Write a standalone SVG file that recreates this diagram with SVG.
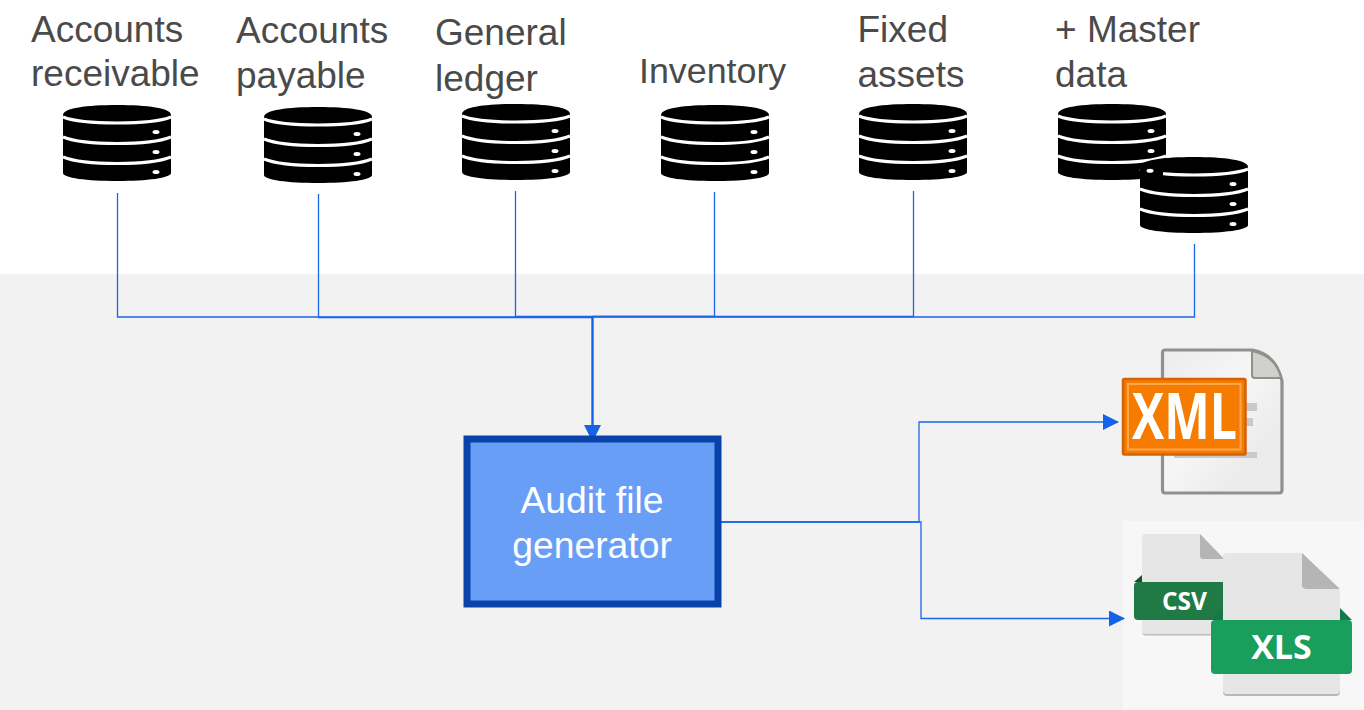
<svg xmlns="http://www.w3.org/2000/svg" width="1364" height="710" viewBox="0 0 1364 710">
<style>
text{font-family:"Liberation Sans",Arial,sans-serif}
.lbl{font-size:37px;fill:#4a4a4a}
.box{font-size:37.300px;fill:#fff;text-anchor:middle}
.badge{font-family:"Open Sans","Liberation Sans",sans-serif;font-weight:700;fill:#fff;text-anchor:middle}
.c{fill:none;stroke:#1a66e8;stroke-width:1.3}
.c2{fill:none;stroke:#1463e6;stroke-width:2.400}
.band{fill:none;stroke:#fff;stroke-width:3}
.dot{fill:#fff}
.lines{fill:#c9c9c9}
</style>
<defs>
<linearGradient id="sheet" x1="0" y1="0" x2="1" y2="1"><stop offset="0" stop-color="#ececec"/><stop offset="0.45" stop-color="#f6f6f6"/><stop offset="0.75" stop-color="#ececec"/></linearGradient>
<marker id="ah" markerUnits="userSpaceOnUse" markerWidth="18" markerHeight="18" refX="15" refY="8" orient="auto"><path d="M0 0L16 8L0 16Z" fill="#1463e6"/></marker>
<marker id="ah2" markerUnits="userSpaceOnUse" markerWidth="18" markerHeight="18" refX="16" refY="8.500" orient="auto"><path d="M0 0L17 8.500L0 17Z" fill="#1463e6"/></marker>
<symbol id="db" overflow="visible">
<path d="M0 10C0 3 24 0 54 0S108 3 108 10V68C108 73 84 76 54 76S0 73 0 68Z" fill="#000"/>
<path class="band" d="M0 12C10 16 30 18 54 18S98 16 108 12M0 32C10 36 30 38.500 54 38.500S98 36 108 32M0 52C10 56 30 58.500 54 58.500S98 56 108 52"/>
<ellipse class="dot" cx="93" cy="27" rx="3.500" ry="2"/><ellipse class="dot" cx="93" cy="47" rx="3.500" ry="2"/><ellipse class="dot" cx="93" cy="67" rx="3.500" ry="2"/>
</symbol>
</defs>
<rect width="1364" height="710" fill="#fff"/>
<rect y="274" width="1364" height="436" fill="#f2f2f2"/>
<rect x="1123" y="521" width="241" height="189" fill="#f7f7f7"/>

<g id="connectors">
<path class="c" d="M117.500 193V317H592"/>
<path class="c" d="M318.500 194V317.500H592"/>
<path class="c" d="M515.500 191V316.500H592"/>
<path class="c" d="M714.500 192V316.500H592"/>
<path class="c" d="M913.500 191V316.500H592"/>
<path class="c" d="M1194.500 244V317H592"/>
<path class="c2" d="M592.500 317V441" marker-end="url(#ah2)"/>
<path class="c" d="M721 522H919V422H1118" marker-end="url(#ah)"/>
<path class="c" d="M721 522H921V618.500H1124" marker-end="url(#ah)"/>
</g>

<g id="db-ar"><use href="#db" x="63" y="105"/><text class="lbl" x="31" y="42">Accounts</text><text class="lbl" x="31" y="86">receivable</text></g>
<g id="db-ap"><use href="#db" x="264" y="107"/><text class="lbl" x="236" y="43">Accounts</text><text class="lbl" x="236" y="88">payable</text></g>
<g id="db-gl"><use href="#db" x="462" y="104"/><text class="lbl" x="435" y="45">General</text><text class="lbl" x="435" y="91">ledger</text></g>
<g id="db-inv"><use href="#db" x="661" y="105"/><text class="lbl" x="639" y="83" style="font-size:35.800px">Inventory</text></g>
<g id="db-fa"><use href="#db" x="859" y="104"/><text class="lbl" x="857.500" y="42">Fixed</text><text class="lbl" x="857.500" y="87">assets</text></g>
<g id="db-md"><use href="#db" x="1058" y="104"/><use href="#db" x="1140" y="157"/><path d="M1140 167C1142 163 1150 160 1163 159V177H1140Z" fill="#000"/><ellipse class="dot" cx="1150" cy="170.700" rx="3.500" ry="2"/><text class="lbl" x="1055" y="42">+ Master</text><text class="lbl" x="1055" y="87">data</text></g>

<g id="generator">
<rect x="467" y="439" width="251" height="165" fill="#699ef6" stroke="#0942a8" stroke-width="7"/>
<text class="box" x="592" y="512.500">Audit file</text>
<text class="box" x="592" y="558">generator</text>
</g>

<g id="xml-file">
<path d="M1165 350H1252Q1276 354 1282 381V490Q1282 493 1279 493H1165Q1162.500 493 1162.500 490V353Q1162.500 350 1165 350Z" fill="url(#sheet)" stroke="#8e918c" stroke-width="3.200"/>
<path d="M1252 351V375Q1252 378 1255 378H1281Q1276 356 1252 351Z" fill="#cfd1cd" stroke="#8e918c" stroke-width="2"/>
<rect class="lines" x="1240" y="403" width="17" height="8"/><rect class="lines" x="1240" y="418" width="13" height="8"/><rect class="lines" x="1174" y="452" width="83" height="6"/>
<rect x="1123" y="379" width="122.500" height="75.500" rx="1.500" fill="#f57c00" stroke="#d2620a" stroke-width="2.500"/>
<rect x="1128" y="384" width="112.500" height="65.500" fill="none" stroke="#ffa64a" stroke-width="2"/>
<text class="badge" x="1184.500" y="439" font-size="64" textLength="105" lengthAdjust="spacingAndGlyphs">XML</text>
</g>

<g id="csv-file">
<path d="M1146 534H1200L1224 558V634H1146Q1142 634 1142 630V538Q1142 534 1146 534Z" fill="#e6e6e6"/>
<path d="M1142 631Q1142 634 1146 634H1224V635.500H1146Q1142 635.500 1142 631Z" fill="#bdbdbd"/>
<path d="M1200 534L1224 559H1203Q1200 559 1200 556Z" fill="#b5b5b5"/>
<path d="M1134 582L1142 575V582Z" fill="#14532f"/>
<path d="M1138 582H1224V620H1138Q1134 620 1134 616V586Q1134 582 1138 582Z" fill="#1f7a45"/>
<text class="badge" x="1184.500" y="610" font-size="24.500">CSV</text>
</g>

<g id="xls-file">
<path d="M1227 553H1302L1340 591V690Q1340 694 1336 694H1227Q1223 694 1223 690V557Q1223 553 1227 553Z" fill="#e6e6e6"/>
<path d="M1223 690Q1223 694 1227 694H1336Q1340 694 1340 690V692Q1340 696 1336 696H1227Q1223 696 1223 692Z" fill="#b8b8b8"/>
<path d="M1302 553L1340 589H1307Q1302 589 1302 585Z" fill="#b5b5b5"/>
<path d="M1211 620L1223 608V620ZM1352 620L1340 608V620Z" fill="#127a46"/>
<path d="M1215 620H1348Q1352 620 1352 624V670Q1352 674 1348 674H1215Q1211 674 1211 670V624Q1211 620 1215 620Z" fill="#1a9e5c"/>
<text class="badge" x="1281.500" y="659" font-size="34">XLS</text>
</g>
</svg>
